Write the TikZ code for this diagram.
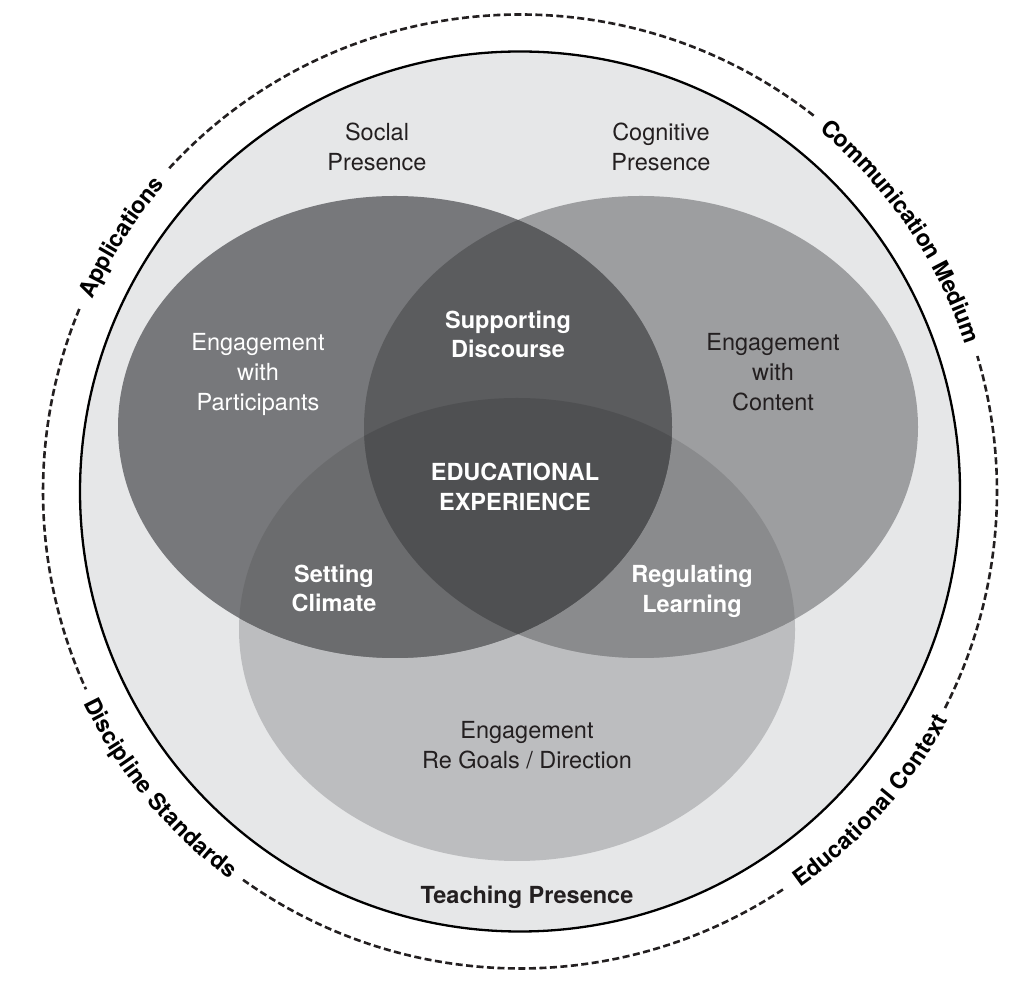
\documentclass[tikz,border=0pt]{standalone}
\usepackage{fontspec}
\setmainfont{TeX Gyre Heros}
\usetikzlibrary{decorations.text}
\definecolor{bgin}{HTML}{E6E7E8}
\definecolor{teachc}{HTML}{BCBDBF}
\definecolor{cogc}{HTML}{9D9EA0}
\definecolor{socc}{HTML}{77787B}
\definecolor{cogteach}{HTML}{8A8B8D}
\definecolor{socteach}{HTML}{6B6C6E}
\definecolor{soccog}{HTML}{5B5C5E}
\definecolor{allc}{HTML}{4F5052}
\definecolor{ink}{HTML}{231F20}
\newcommand\curvefont{\bfseries\fontsize{23}{23}\selectfont}
\begin{document}
\begin{tikzpicture}[x=1pt,y=1pt,
  socialp/.style={insert path={(395,555) ellipse [x radius=277pt, y radius=231pt]}},
  cognp/.style={insert path={(641,555) ellipse [x radius=277pt, y radius=231pt]}},
  teachp/.style={insert path={(517,352.5) ellipse [x radius=278pt, y radius=231.5pt]}},
  lab/.style={align=center, font=\fontsize{23.5}{30}\selectfont, inner sep=0pt},
  blab/.style={lab, font=\bfseries\fontsize{23.5}{29.5}\selectfont},
  dashc/.style={draw=ink, line width=2.6pt, dash pattern=on 7pt off 3.5pt},
  curvetop/.style={decorate, decoration={text along path, text align=center, raise=-8pt, text={|\curvefont|#1}}},
]
\useasboundingbox (0,0) rectangle (1024,982);
\fill[white] (0,0) rectangle (1024,982);
\coordinate (C) at (520,490.5);
% inner circle
\fill[bgin] (C) circle[radius=440pt];
% ellipses
\fill[teachc, teachp];
\fill[cogc, cognp];
\fill[socc, socialp];
\begin{scope}
  \clip[cognp];
  \fill[cogteach, teachp];
\end{scope}
\begin{scope}
  \clip[socialp];
  \fill[socteach, teachp];
\end{scope}
\begin{scope}
  \clip[socialp];
  \fill[soccog, cognp];
\end{scope}
\begin{scope}
  \clip[socialp];
  \clip[cognp];
  \fill[allc, teachp];
\end{scope}
\draw[black, line width=2.3pt] (C) circle[radius=440pt];
% dashed outer circle pieces
\draw[dashc] (C) ++(52:477pt) arc[start angle=52, end angle=137.5, radius=477pt];
\draw[dashc] (C) ++(157.5:477pt) arc[start angle=157.5, end angle=204.5, radius=477pt];
\draw[dashc] (C) ++(234.5:477pt) arc[start angle=234.5, end angle=303.5, radius=477pt];
\draw[dashc] (C) ++(-27:477pt) arc[start angle=-27, end angle=16.5, radius=477pt];
% curved labels
\path[curvetop={Applications}] (C) ++(172.5:477pt) arc[start angle=172.5, end angle=122.5, radius=477pt];
\path[curvetop={Communication Medium}] (C) ++(64.3:477pt) arc[start angle=64.3, end angle=4.3, radius=477pt];
\path[curvetop={Educational Context}] (C) ++(-71.4:477pt) arc[start angle=-71.4, end angle=-11.4, radius=477pt];
\path[curvetop={Discipline Standards}] (C) ++(189.5:477pt) arc[start angle=189.5, end angle=249.5, radius=477pt];
% labels
\node[lab, text=ink] (social) at (377,835) {Soclal\\Presence};
\node[lab, text=ink] (cognitive) at (661,835) {Cognitive\\Presence};
\node[lab, text=white] (participants) at (258,607) {Engagement\\with\\Participants};
\node[lab, text=ink] (content) at (773,610) {Engagement\\with\\Content};
\node[blab, text=white] (discourse) at (508,647.5) {Supporting\\Discourse};
\node[blab, text=white] (experience) at (515,495) {EDUCATIONAL\\EXPERIENCE};
\node[blab, text=white] (climate) at (334,393.5) {Setting\\Climate};
\node[blab, text=white] (regulating) at (692,390.5) {Regulating\\Learning};
\node[lab, text=ink] (goals) at (527,236.5) {Engagement\\Re Goals / Direction};
\node[blab, text=ink] (teaching) at (527,85) {Teaching Presence};
\end{tikzpicture}
\end{document}
